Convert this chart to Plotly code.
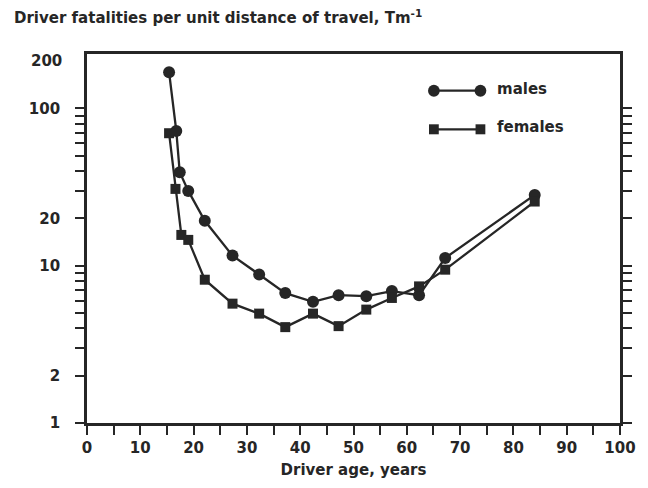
import math
import plotly.graph_objects as go

# Driver fatality rate by age group (per Tm of travel)
male_age = [15.4, 16.75, 17.4, 19.0, 22.1, 27.3, 32.3, 37.2, 42.4, 47.2, 52.4, 57.2, 62.3, 67.2, 84.0]
male_rate = [170, 72.0, 39.3, 29.9, 19.3, 11.6, 8.8, 6.7, 5.9, 6.5, 6.4, 6.9, 6.5, 11.2, 28.2]

female_age = [15.4, 16.6, 17.7, 19.0, 22.1, 27.3, 32.3, 37.2, 42.4, 47.2, 52.4, 57.2, 62.3, 67.2, 84.0]
female_rate = [69.6, 30.8, 15.7, 14.6, 8.15, 5.74, 4.96, 4.07, 4.96, 4.13, 5.26, 6.24, 7.39, 9.44, 25.6]

x_ticks = list(range(0, 101, 5))
x_labels = [str(v) if v % 10 == 0 else "" for v in x_ticks]

y_ticks = [1, 2, 3, 4, 5, 6, 7, 8, 9, 10, 20, 30, 40, 50, 60, 70, 80, 90, 100]
y_labels = {1: "1", 2: "2", 10: "10", 20: "20", 100: "100"}

INK = "#262626"
FONT = "DejaVu Sans"

W, H = 648, 488
L, R, T, B = 87, 16, 54, 65
PW, PH = W - L - R, H - T - B


def px(x):
    return (x - L) / PW


def py(y):
    return (H - B - y) / PH


fig = go.Figure()
fig.add_trace(go.Scatter(
    x=male_age, y=male_rate, mode="lines+markers", name="males",
    line=dict(color=INK, width=2.3),
    marker=dict(symbol="circle", size=12, color=INK),
))
fig.add_trace(go.Scatter(
    x=female_age, y=female_rate, mode="lines+markers", name="females",
    line=dict(color=INK, width=2.3),
    marker=dict(symbol="square", size=10, color=INK),
))

axis_font = dict(family=FONT, size=15, color=INK, weight="bold")

fig.update_xaxes(
    range=[0, 100], tickvals=x_ticks, ticktext=x_labels,
    ticks="outside", ticklen=9, tickwidth=2, tickcolor=INK,
    showline=True, linewidth=2.8, linecolor=INK, mirror=True,
    showgrid=False, zeroline=False, tickfont=axis_font,
    title=dict(text="Driver age, years", font=axis_font, standoff=9),
)
fig.update_yaxes(
    type="log", range=[0, math.log10(222)],
    tickvals=y_ticks, ticktext=[y_labels.get(v, "") for v in y_ticks],
    ticks="outside", ticklen=9, tickwidth=2, tickcolor=INK,
    showline=True, linewidth=2.8, linecolor=INK, mirror="ticks",
    showgrid=False, zeroline=False, tickfont=axis_font,
    ticklabelstandoff=12,
)

annotations = [
    dict(text="Driver fatalities per unit distance of travel, Tm<sup>-1</sup>",
         xref="paper", yref="paper", x=px(10), y=py(17),
         xanchor="left", yanchor="middle", showarrow=False, font=axis_font),
    dict(text="200", xref="paper", yref="y", x=px(63), y=math.log10(200),
         xanchor="right", yanchor="middle", showarrow=False, font=axis_font),
    dict(text="males", xref="paper", yref="paper", x=px(504), y=py(89),
         xanchor="left", yanchor="middle", showarrow=False, font=axis_font),
    dict(text="females", xref="paper", yref="paper", x=px(504), y=py(127),
         xanchor="left", yanchor="middle", showarrow=False, font=axis_font),
]

# Legend keys: a line with a marker at each end
shapes = []
for yk, sym in [(90.7, "circle"), (129.3, "square")]:
    shapes.append(dict(type="line", xref="paper", yref="paper",
                       x0=px(441.7), x1=px(489.3), y0=py(yk), y1=py(yk),
                       line=dict(color=INK, width=2.3)))
    for xk in (441.7, 489.3):
        r = 6 if sym == "circle" else 5
        shapes.append(dict(type=sym if sym == "circle" else "rect",
                           xref="paper", yref="paper",
                           x0=px(xk - r), x1=px(xk + r), y0=py(yk + r), y1=py(yk - r),
                           fillcolor=INK, line=dict(width=0)))

fig.update_layout(
    width=W, height=H,
    margin=dict(l=L, r=R, t=T, b=B),
    paper_bgcolor="white", plot_bgcolor="white",
    showlegend=False,
    annotations=annotations, shapes=shapes,
    font=dict(family=FONT, color=INK),
)

fig.write_html("out.html")
